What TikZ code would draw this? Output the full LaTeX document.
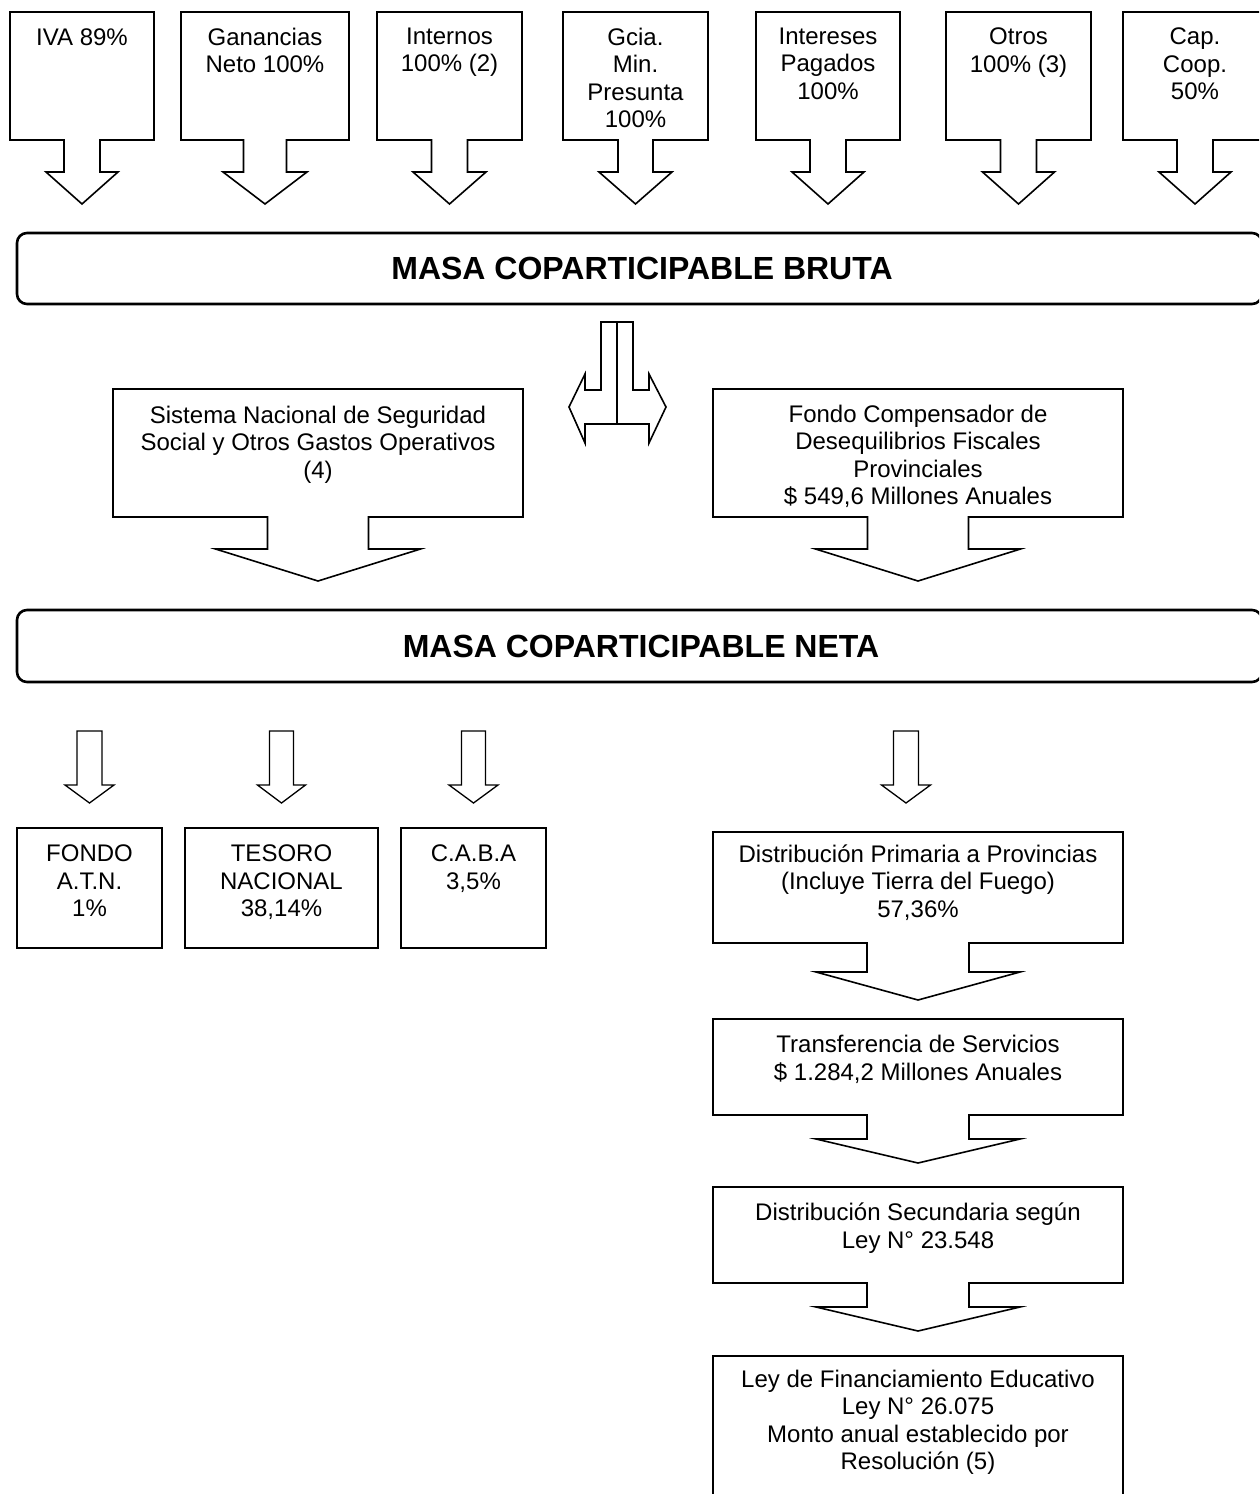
\documentclass[tikz,border=0pt]{standalone}
\usepackage{fontspec}
\setmainfont{Liberation Sans}
\tikzset{
  boxline/.style={line width=1.6pt, line join=miter, miter limit=10},
  arrline/.style={line width=1.3pt, line join=miter, miter limit=10},
  massbox/.style={line width=2.6pt, rounded corners=10pt},
  lbl/.style={anchor=north, align=center, inner sep=0pt, font=\fontsize{24}{27.6}\selectfont,
    execute at begin node={\rule{0pt}{17.5pt}}},
  ttl/.style={inner sep=0pt, font=\fontsize{32}{38}\selectfont\bfseries},
}
% #1 cx, #2 box half width, #3 top, #4 bottom, #5 stem half, #6 stem bottom, #7 head half, #8 tip
\newcommand{\calloutshape}[8]{%
  \draw[boxline] ({#1-#2},#3) -- ({#1+#2},#3) -- ({#1+#2},#4) -- ({#1+#5},#4) -- ({#1+#5},#6)
    -- ({#1+#7},#6) -- (#1,#8) -- ({#1-#7},#6) -- ({#1-#5},#6) -- ({#1-#5},#4) -- ({#1-#2},#4) -- cycle;}
% #1 cx, #2 stem half, #3 top, #4 stem bottom, #5 head half, #6 tip
\newcommand{\hollowarrow}[6]{%
  \draw[arrline] ({#1-#2},#3) -- ({#1+#2},#3) -- ({#1+#2},#4) -- ({#1+#5},#4) -- (#1,#6)
    -- ({#1-#5},#4) -- ({#1-#2},#4) -- cycle;}
\begin{document}
\begin{tikzpicture}[x=1pt,y=-1pt]
\useasboundingbox (0,0) rectangle (1259,1494);
\fill[white] (0,0) rectangle (1259,1494);
\clip (0,0) rectangle (1259,1494);

% ---- top sources ----
\calloutshape{82}{72}{12}{140}{18}{172}{36}{204}
\node[lbl] (iva) at (82,27.5) {IVA 89\%};
\calloutshape{265}{84}{12}{140}{21.5}{172}{42}{204}
\node[lbl] (gan) at (265,27.5) {Ganancias\\Neto 100\%};
\calloutshape{449.5}{72.5}{12}{140}{18}{172}{36.5}{204}
\node[lbl] (int) at (449.5,27.5) {Internos\\100\% (2)};
\calloutshape{635.5}{72.5}{12}{140}{17.5}{172}{36.5}{204}
\node[lbl] (gmp) at (635.5,27.5) {Gcia.\\Min.\\Presunta\\100\%};
\calloutshape{828}{72}{12}{140}{18}{172}{36}{204}
\node[lbl] (ipag) at (828,27.5) {Intereses\\Pagados\\100\%};
\calloutshape{1018.5}{72.5}{12}{140}{18}{172}{36}{204}
\node[lbl] (otros) at (1018.5,27.5) {Otros\\100\% (3)};
\calloutshape{1195}{72}{12}{140}{18}{172}{36}{204}
\node[lbl] (capc) at (1195,27.5) {Cap.\\Coop.\\50\%};

% ---- masa bruta ----
\draw[massbox] (17,233) rectangle (1262,304);
\node[ttl] (bruta) at (642,268.5) {MASA COPARTICIPABLE BRUTA};

% ---- split arrow ----
\draw[boxline] (601,322) -- (633,322) -- (633,390) -- (649,390) -- (649,374) -- (666,407)
  -- (649,443) -- (649,424) -- (585,424) -- (585,443) -- (569,407) -- (585,374)
  -- (585,390) -- (601,390) -- cycle;
\draw[boxline] (617,322) -- (617,424);

% ---- deductions ----
\calloutshape{318}{205}{389}{517}{50.5}{549}{102.5}{581}
\node[lbl] (sns) at (318,405.5) {Sistema Nacional de Seguridad\\Social y Otros Gastos Operativos\\(4)};
\calloutshape{918}{205}{389}{517}{50.5}{549}{102.5}{581}
\node[lbl] (fcdf) at (918,404.5) {Fondo Compensador de\\Desequilibrios Fiscales\\Provinciales\\\$ 549,6 Millones Anuales};

% ---- masa neta ----
\draw[massbox] (17,610) rectangle (1262,682);
\node[ttl] (neta) at (641,646) {MASA COPARTICIPABLE NETA};

% ---- distribution arrows ----
\hollowarrow{89.5}{12.5}{731}{785}{24.5}{803}
\hollowarrow{281.5}{12}{731}{785}{24}{803}
\hollowarrow{473.5}{12}{731}{785}{24.5}{803}
\hollowarrow{906}{12.5}{731}{785}{24.5}{803}

% ---- destination boxes ----
\draw[boxline] (17,828) rectangle (162,948);
\node[lbl] (atn) at (89.5,844.5) {FONDO\\A.T.N.\\1\%};
\draw[boxline] (185,828) rectangle (378,948);
\node[lbl] (tes) at (281.5,844.5) {TESORO\\NACIONAL\\38,14\%};
\draw[boxline] (401,828) rectangle (546,948);
\node[lbl] (caba) at (473.5,844.5) {C.A.B.A\\3,5\%};

\calloutshape{918}{205}{832}{943}{51}{972}{102}{1000}
\node[lbl] (dprim) at (918,844.5) {Distribución Primaria a Provincias\\(Incluye Tierra del Fuego)\\57,36\%};
\calloutshape{918}{205}{1019}{1115}{51}{1139}{102}{1163}
\node[lbl] (trans) at (918,1035) {Transferencia de Servicios\\\$ 1.284,2 Millones Anuales};
\calloutshape{918}{205}{1187}{1283}{51}{1307}{102}{1331}
\node[lbl] (dsec) at (918,1203) {Distribución Secundaria según\\Ley N° 23.548};
\draw[boxline] (713,1510) -- (713,1356) -- (1123,1356) -- (1123,1510);
\node[lbl] (lfe) at (918,1369.5) {Ley de Financiamiento Educativo\\Ley N° 26.075\\Monto anual establecido por\\Resolución (5)};
\end{tikzpicture}
\end{document}
